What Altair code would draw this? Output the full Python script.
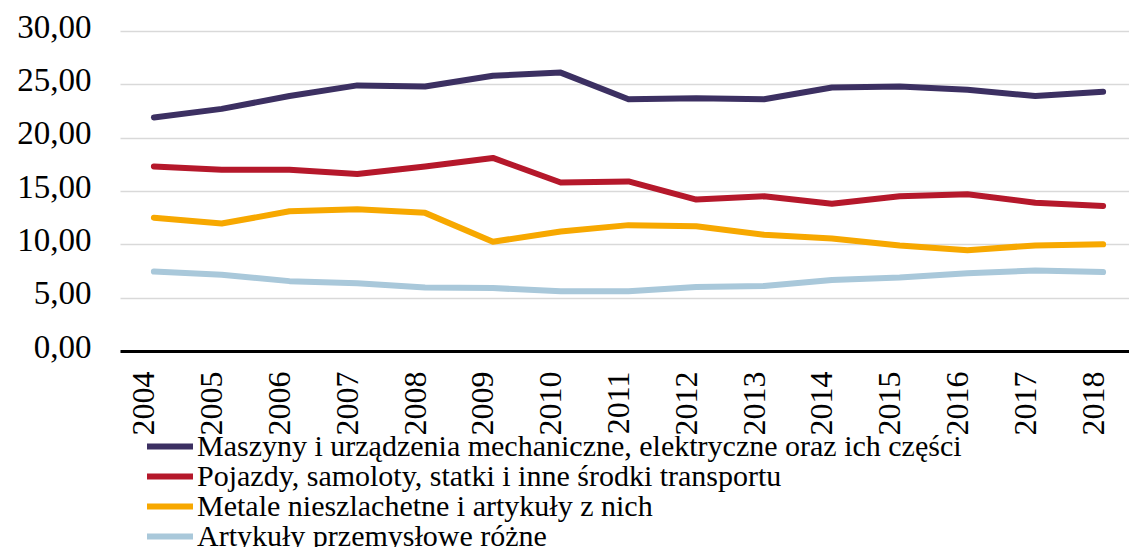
import altair as alt
import pandas as pd

years = [str(y) for y in range(2004, 2019)]
series_names = [
    "Maszyny i urządzenia mechaniczne, elektryczne oraz ich części",
    "Pojazdy, samoloty, statki i inne środki transportu",
    "Metale nieszlachetne i artykuły z nich",
    "Artykuły przemysłowe różne",
]
maszyny = [21.9, 22.7, 23.9, 24.9, 24.8, 25.8, 26.1, 23.6, 23.7, 23.6, 24.7, 24.8, 24.5, 23.9, 24.3]
pojazdy = [17.3, 17.0, 17.0, 16.6, 17.3, 18.1, 15.8, 15.9, 14.2, 14.5, 13.8, 14.5, 14.7, 13.9, 13.6]
metale = [12.5, 11.95, 13.1, 13.3, 12.95, 10.25, 11.2, 11.8, 11.7, 10.9, 10.55, 9.9, 9.45, 9.9, 10.0]
artykuly = [7.45, 7.15, 6.55, 6.35, 5.95, 5.9, 5.6, 5.6, 6.0, 6.1, 6.65, 6.9, 7.3, 7.55, 7.4]
colors = ["#3C3062", "#B5182B", "#F7A800", "#A9C8DA"]

rows = []
for name, vals in zip(series_names, [maszyny, pojazdy, metale, artykuly]):
    for y, v in zip(years, vals):
        rows.append({"rok": y, "wartosc": v, "seria": name})
df = pd.DataFrame(rows)

FONT = "Liberation Serif"

chart = alt.Chart(df).mark_line(strokeWidth=6, strokeCap="round", strokeJoin="round").encode(
    x=alt.X("rok:N", sort=years, title=None,
            scale=alt.Scale(padding=0.5),
            axis=alt.Axis(labelAngle=-90, labelAlign="right", labelBaseline="alphabetic",
                          labelPadding=20, ticks=False, tickSize=0, domain=True,
                          domainColor="#000000", domainWidth=3, grid=False,
                          labelFont=FONT, labelFontSize=32, labelColor="#000000")),
    y=alt.Y("wartosc:Q", title=None,
            scale=alt.Scale(domain=[0, 30], nice=False),
            axis=alt.Axis(values=[0, 5, 10, 15, 20, 25, 30],
                          labelExpr="replace(format(datum.value, '.2f'), '.', ',')",
                          ticks=False, tickSize=0, domain=False, grid=True,
                          gridColor="#D9D9D9", gridWidth=1.5,
                          labelPadding=29, labelBaseline="alphabetic", labelOffset=6,
                          labelFont=FONT, labelFontSize=33, labelColor="#000000")),
    color=alt.Color("seria:N", sort=series_names,
                    scale=alt.Scale(domain=series_names, range=colors),
                    legend=alt.Legend(title=None, orient="none", legendX=24, legendY=401,
                                      direction="vertical", symbolType="stroke",
                                      symbolSize=2116, symbolStrokeWidth=6,
                                      clipHeight=29, rowPadding=-2, padding=0,
                                      labelOffset=1, labelFont=FONT, labelFontSize=30,
                                      labelColor="#000000", labelLimit=1000)),
).properties(
    width=1017, height=320,
    padding={"left": 112, "top": 23, "right": -8, "bottom": 196},
    autosize=alt.AutoSizeParams(type="none"),
).configure_view(stroke=None)

chart.save("out.html", embed_options={"renderer": "svg", "actions": False})
